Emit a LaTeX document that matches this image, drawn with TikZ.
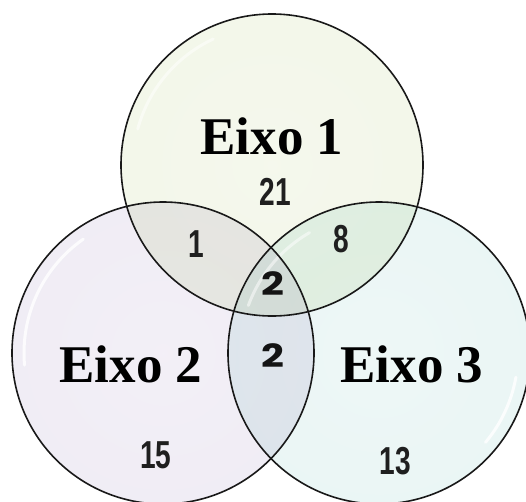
\documentclass[tikz,border=0pt]{standalone}
\usepackage{fontspec}
\setmainfont{Liberation Serif}
\newfontfamily\numFont[FakeStretch=0.72]{Liberation Sans}
\newfontfamily\centroFont[FakeStretch=1.25]{Poppins}
\definecolor{colorEixoA}{RGB}{190,210,140}
\definecolor{colorEixoB}{RGB}{160,136,190}
\definecolor{colorEixoC}{RGB}{112,190,184}
\pgfdeclareradialshading{bolhaA}{\pgfpoint{0bp}{0bp}}{color(0bp)=(colorEixoA!16!white); color(40bp)=(colorEixoA!20!white); color(46bp)=(colorEixoA!50!white); color(50bp)=(colorEixoA!95!white)}
\pgfdeclareradialshading{bolhaB}{\pgfpoint{0bp}{0bp}}{color(0bp)=(colorEixoB!13!white); color(40bp)=(colorEixoB!17!white); color(46bp)=(colorEixoB!50!white); color(50bp)=(colorEixoB!95!white)}
\pgfdeclareradialshading{bolhaC}{\pgfpoint{0bp}{0bp}}{color(0bp)=(colorEixoC!12!white); color(40bp)=(colorEixoC!16!white); color(46bp)=(colorEixoC!45!white); color(50bp)=(colorEixoC!95!white)}

\begin{document}
\begin{tikzpicture}[
	x=1pt, y=-1pt,
	conjunto/.style={circle, minimum size=302pt, inner sep=0pt},
	borde/.style={circle, minimum size=302pt, inner sep=0pt, draw=black!90, line width=1.6pt},
	brillo/.style={draw=white, line width=3pt, line cap=round, opacity=0.8},
	titulo/.style={anchor=base, font=\bfseries\fontsize{53}{55}\selectfont},
	valor/.style={anchor=base, text=black!88, font=\numFont\bfseries\fontsize{39}{41}\selectfont},
	centro/.style={anchor=base, text=black!92, font=\centroFont\bfseries\fontsize{32}{34}\selectfont},
	]
\useasboundingbox (0,0) rectangle (526,501);

% Conjuntos
\begin{scope}[blend group=multiply]
	\node[conjunto, shading=bolhaB] (e2) at (163,353) {};
	\node[conjunto, shading=bolhaC] (e3) at (379,353) {};
	\node[conjunto, shading=bolhaA] (e1) at (272,165) {};
\end{scope}

% Brilhos
\draw[brillo, opacity=0.5] ([shift={(115:139pt)}]e1.center) arc[start angle=115, end angle=165, radius=139pt];
\draw[brillo] ([shift={(125:139pt)}]e2.center) arc[start angle=125, end angle=185, radius=139pt];
\draw[brillo] ([shift={(-10:139pt)}]e3.center) arc[start angle=-10, end angle=-40, radius=139pt];
\draw[brillo, opacity=0.5] ([shift={(120:139pt)}]e3.center) arc[start angle=120, end angle=160, radius=139pt];

% Contornos
\node[borde] at (e1) {};
\node[borde] at (e2) {};
\node[borde] at (e3) {};

% Nomes dos eixos
\node[titulo] (t1) at (272,154) {Eixo 1};
\node[titulo] (t2) at (131,382) {Eixo 2};
\node[titulo] (t3) at (412,382) {Eixo 3};

% Quantidades
\node[valor] (n1) at (275,205) {21};
\node[valor] (n12) at (196,257) {1};
\node[valor] (n13) at (341,252) {8};
\node[valor] (n2) at (156,468) {15};
\node[valor] (n3) at (395,474) {13};
\node[centro] (n123) at (273,295) {2};
\node[centro] (n23) at (273,367) {2};

\end{tikzpicture}
\end{document}
